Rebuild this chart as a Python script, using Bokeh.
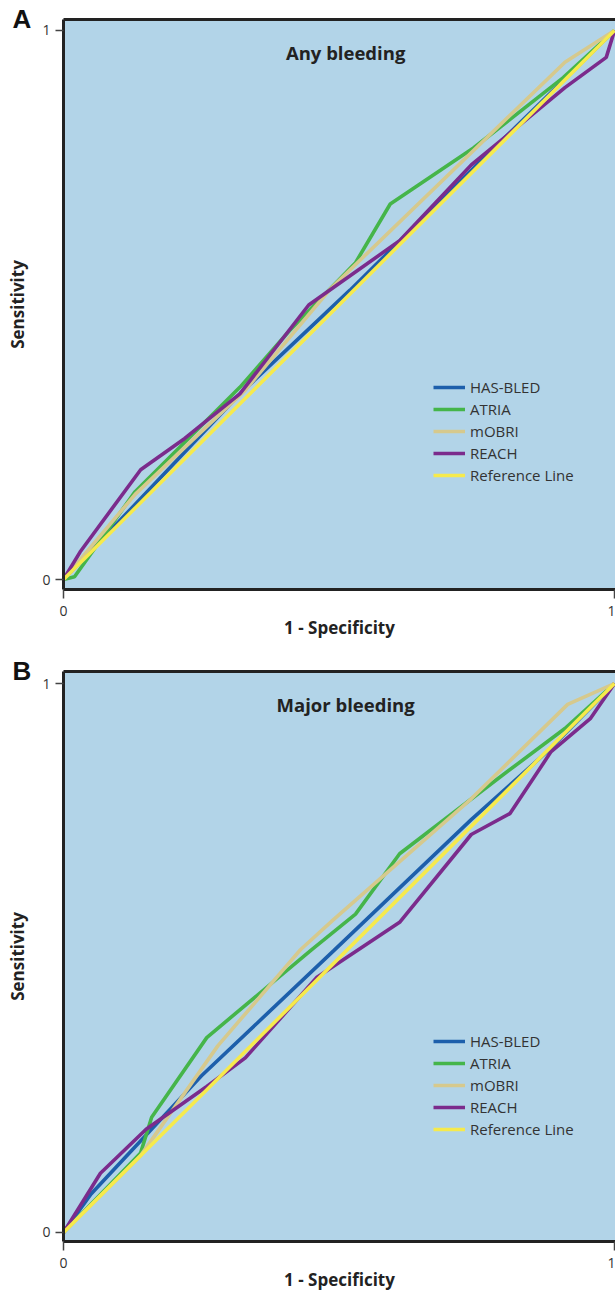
from bokeh.plotting import figure
from bokeh.models import Range1d, FixedTicker, LinearAxis, Legend, LegendItem, Label
from bokeh.layouts import column
from bokeh.embed import file_html
from bokeh.resources import INLINE

# ---------------- data ----------------
series_names = ["HAS-BLED", "ATRIA", "mOBRI", "REACH", "Reference Line"]
series_colors = ["#1d5fab", "#45b54a", "#d6c98d", "#7b2b8c", "#f6ea4c"]
tick_values = [0, 1]
tick_labels = {0: "0", 1: "1"}

# Panel A: Any bleeding
a_title = "Any bleeding"
a_hasbled_x = [0, 0.10, 0.32, 0.52, 0.75, 1.0]
a_hasbled_y = [0, 0.105, 0.338, 0.527, 0.755, 1.0]
a_atria_x = [0, 0.02, 0.13, 0.32, 0.41, 0.53, 0.593, 0.744, 0.907, 1.0]
a_atria_y = [0, 0.005, 0.16, 0.35, 0.453, 0.577, 0.684, 0.786, 0.914, 1.0]
a_mobri_x = [0, 0.13, 0.33, 0.485, 0.91, 1.0]
a_mobri_y = [0, 0.155, 0.345, 0.53, 0.942, 1.0]
a_reach_x = [0, 0.03, 0.14, 0.22, 0.32, 0.445, 0.61, 0.74, 0.91, 0.985, 1.0]
a_reach_y = [0, 0.05, 0.2, 0.257, 0.338, 0.5, 0.617, 0.755, 0.896, 0.951, 1.0]
a_ref_x = [0, 1]
a_ref_y = [0, 1]

# Panel B: Major bleeding
b_title = "Major bleeding"
b_hasbled_x = [0, 0.05, 0.25, 0.49, 0.74, 0.88, 1.0]
b_hasbled_y = [0, 0.07, 0.285, 0.513, 0.752, 0.878, 1.0]
b_atria_x = [0, 0.14, 0.16, 0.26, 0.45, 0.53, 0.61, 0.79, 0.91, 1.0]
b_atria_y = [0, 0.145, 0.21, 0.355, 0.515, 0.58, 0.69, 0.828, 0.918, 1.0]
b_mobri_x = [0, 0.14, 0.28, 0.43, 0.49, 0.74, 0.915, 1.0]
b_mobri_y = [0, 0.14, 0.34, 0.515, 0.57, 0.79, 0.962, 1.0]
b_reach_x = [0, 0.067, 0.15, 0.26, 0.33, 0.46, 0.61, 0.74, 0.81, 0.885, 0.956, 1.0]
b_reach_y = [0, 0.108, 0.188, 0.266, 0.318, 0.465, 0.565, 0.725, 0.763, 0.876, 0.936, 1.0]
b_ref_x = [0, 1]
b_ref_y = [0, 1]

FONT = "Open Sans"
FRAME = "#222222"
BG = "#b2d4e8"


def make_panel(letter, title, series, y_start, y_end, top, title_x, title_y,
               legend_loc):
    p = figure(frame_width=552, frame_height=570, title=letter,
               x_range=Range1d(0, 1.0018), y_range=Range1d(y_start, y_end),
               min_border_left=63, min_border_right=0,
               min_border_top=top, min_border_bottom=40,
               output_backend="svg", toolbar_location=None,
               background_fill_color=BG, border_fill_color="white",
               outline_line_color=None)
    p.xgrid.visible = False
    p.ygrid.visible = False

    # panel letter as the figure title, pulled into the top-left corner
    p.title.align = "left"
    p.title.vertical_align = "bottom"
    p.title.offset = -51
    p.title.standoff = -29
    p.title.text_font = "Liberation Sans"
    p.title.text_font_style = "bold"
    p.title.text_font_size = "26px"
    p.title.text_color = "#111111"

    renderers = []
    for (xs, ys), name, col in zip(series, series_names, series_colors):
        r = p.line(xs, ys, line_color=col, line_width=3.6)
        renderers.append((name, r))

    for ax in (p.xaxis[0], p.yaxis[0]):
        ax.ticker = FixedTicker(ticks=tick_values)
        ax.major_label_overrides = tick_labels
        ax.axis_line_width = 3
        ax.axis_line_color = FRAME
        ax.major_tick_in = 0
        ax.major_tick_line_color = "#444444"
        ax.major_tick_line_width = 1.5
        ax.minor_tick_line_color = None
        ax.major_label_text_font = FONT
        ax.major_label_text_font_size = "14px"
        ax.major_label_text_color = "#333333"
        ax.axis_label_text_font = FONT
        ax.axis_label_text_font_style = "bold"
        ax.axis_label_text_font_size = "17px"
        ax.axis_label_text_color = "#222222"

    p.xaxis.axis_label = "1 - Specificity"
    p.xaxis.major_tick_out = 9
    p.xaxis.major_label_standoff = 7
    p.xaxis.axis_label_standoff = -3
    p.yaxis.axis_label = "Sensitivity"
    p.yaxis.major_tick_out = 8
    p.yaxis.major_label_standoff = 5
    p.yaxis.axis_label_standoff = 10

    top_axis = LinearAxis(ticker=FixedTicker(ticks=[]), axis_line_width=3,
                          axis_line_color=FRAME, major_tick_out=0,
                          major_tick_in=0, major_label_standoff=0,
                          major_label_text_font_size="0px",
                          minor_tick_line_color=None)
    p.add_layout(top_axis, "above")

    legend = Legend(items=[LegendItem(label=n, renderers=[r]) for n, r in renderers],
                    location=legend_loc, orientation="vertical",
                    padding=0, margin=0, spacing=2,
                    glyph_width=32, glyph_height=20, label_height=20,
                    label_standoff=5, label_text_font=FONT,
                    label_text_font_size="15px", label_text_color="#333333",
                    background_fill_alpha=0, border_line_alpha=0)
    p.add_layout(legend)

    p.add_layout(Label(x=title_x, y=title_y, text=title, text_align="center",
                       text_baseline="middle", text_font=FONT,
                       text_font_style="bold", text_font_size="18.5px",
                       text_color="#222222"))
    return p


pa = make_panel("A", a_title,
                [(a_hasbled_x, a_hasbled_y), (a_atria_x, a_atria_y),
                 (a_mobri_x, a_mobri_y), (a_reach_x, a_reach_y),
                 (a_ref_x, a_ref_y)],
                -0.0182, 1.02, 19, 0.512, 0.96, (370, 104))
pb = make_panel("B", b_title,
                [(b_hasbled_x, b_hasbled_y), (b_atria_x, b_atria_y),
                 (b_mobri_x, b_mobri_y), (b_reach_x, b_reach_y),
                 (b_ref_x, b_ref_y)],
                -0.0164, 1.0219, 30, 0.512, 0.962, (370, 102))

layout = column(pa, pb, spacing=0)
open("out.html", "w").write(file_html(layout, INLINE))
